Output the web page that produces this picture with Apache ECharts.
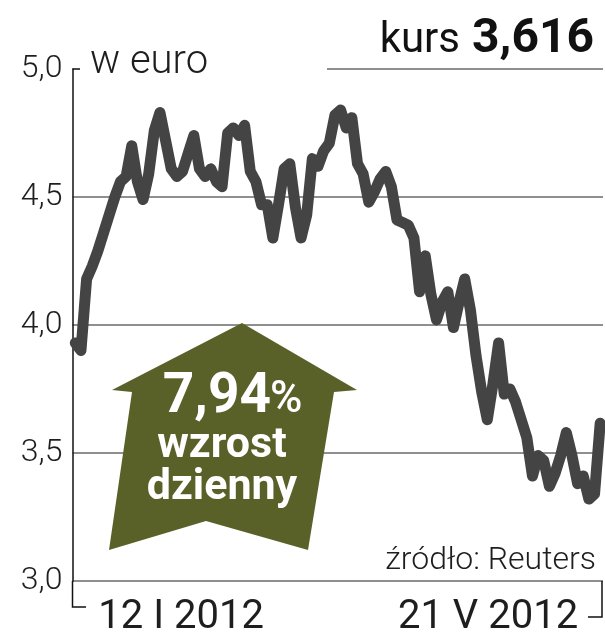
<!DOCTYPE html>
<html><head><meta charset="utf-8">
<script src="https://cdn.jsdelivr.net/npm/echarts@6/dist/echarts.min.js"></script>
<style>html,body{margin:0;padding:0;background:#fff}#c{width:605px;height:640px}</style>
</head><body><div id="c"></div>
<script>
// kurs EUR, 12 I 2012 - 21 V 2012 (odczyt z wykresu)
const values = [
  3.93, 3.90, 4.18, 4.23, 4.29, 4.36, 4.43, 4.50, 4.56, 4.58,
  4.70, 4.56, 4.49, 4.59, 4.76, 4.83, 4.72, 4.61, 4.58, 4.60,
  4.67, 4.74, 4.61, 4.58, 4.61, 4.56, 4.54, 4.75, 4.77, 4.74,
  4.78, 4.60, 4.56, 4.47, 4.47, 4.34, 4.47, 4.61, 4.63, 4.46,
  4.34, 4.43, 4.65, 4.62, 4.68, 4.71, 4.82, 4.84, 4.77, 4.81,
  4.63, 4.59, 4.48, 4.52, 4.57, 4.60, 4.54, 4.41, 4.40, 4.39,
  4.34, 4.13, 4.27, 4.12, 4.02, 4.09, 4.13, 3.99, 4.09, 4.18,
  4.06, 3.88, 3.74, 3.63, 3.77, 3.93, 3.73, 3.75, 3.70, 3.63,
  3.56, 3.41, 3.49, 3.47, 3.37, 3.42, 3.49, 3.58, 3.49, 3.38,
  3.41, 3.32, 3.34, 3.616
];
const categories = values.map((_, i) => i);
const xTickLabels = ['12 I 2012', '21 V 2012'];
const yTickLabels = ['3,0', '3,5', '4,0', '4,5', '5,0'];
const yMin = 3.0, yMax = 5.0, yStep = 0.5;
const unitLabel = 'w euro';
const rateTitle = 'kurs';
const rateValue = '3,616';
const changeValue = '7,94';
const changeLines = ['wzrost', 'dzienny'];
const sourceLabel = 'źródło: Reuters';

const chart = echarts.init(document.getElementById('c'), null, {renderer: 'canvas'});
const lastIdx = values.length - 1;
const ink = '#1e1e1e';
const gridGray = '#8f8f8f';
const olive = '#5a6128';

chart.setOption({
  animation: false,
  backgroundColor: '#fff',
  grid: {left: 72.5, right: 2, top: 69, bottom: 59, outerBoundsMode: 'none'},
  xAxis: {
    type: 'category',
    data: categories,
    boundaryGap: true,
    axisLine: {show: false},
    axisTick: {show: false},
    splitLine: {show: false},
    axisLabel: {
      interval: (i) => i === 0 || i === lastIdx,
      showMinLabel: true, showMaxLabel: true,
      alignMinLabel: 'left', alignMaxLabel: 'right',
      margin: 17,
      verticalAlign: 'top',
      formatter: (v, i) => i === 0 ? '{a|' + xTickLabels[0] + '}' : (i === lastIdx ? '{b|' + xTickLabels[1] + '}' : ''),
      rich: {
        a: {fontFamily: 'Roboto', fontSize: 40, color: ink, padding: [0, 0, 0, 23]},
        b: {fontFamily: 'Roboto', fontSize: 40, color: ink, padding: [0, 22, 0, 0]}
      }
    }
  },
  yAxis: {
    type: 'value',
    min: yMin, max: yMax, interval: yStep,
    axisLine: {show: true, lineStyle: {color: '#111', width: 1.5}},
    axisTick: {show: false},
    splitLine: {show: true, lineStyle: {color: [gridGray, gridGray, gridGray, gridGray, 'rgba(0,0,0,0)'], width: 2}},
    axisLabel: {
      margin: 10,
      fontFamily: 'Roboto', fontWeight: 300, fontSize: 32, color: ink,
      formatter: (v, i) => yTickLabels[i]
    }
  },
  series: [{
    type: 'line',
    data: values,
    symbol: 'none',
    clip: false,
    z: 5,
    lineStyle: {color: '#444444', width: 11, cap: 'round', join: 'round'}
  }],
  graphic: [
    {type: 'line', z: 1, shape: {x1: 327, y1: 69, x2: 603, y2: 69}, style: {stroke: gridGray, lineWidth: 2}},
    {type: 'line', z: 1, shape: {x1: 72.5, y1: 69, x2: 80, y2: 69}, style: {stroke: '#111', lineWidth: 1.5}},
    {type: 'polyline', z: 1, shape: {points: [[72.5, 581], [72.5, 607], [86, 607]]}, style: {stroke: '#111', lineWidth: 1.5, fill: null}},
    {type: 'polyline', z: 1, shape: {points: [[602, 581], [602, 617], [588, 617]]}, style: {stroke: '#111', lineWidth: 1.5, fill: null}},
    {type: 'polygon', z: 2, shape: {points: [[242, 323], [357, 390], [334, 392], [308, 550], [206, 521], [109, 550], [132, 392], [112, 390]]}, style: {fill: olive}},
    {type: 'text', z: 3, x: 271, y: 398, style: {text: changeValue, fill: '#fff', font: 'bold 55px Roboto', textAlign: 'right', textVerticalAlign: 'middle'}},
    {type: 'text', z: 3, x: 270, y: 401, style: {text: '%', fill: '#fff', font: '500 44px Roboto', textAlign: 'left', textVerticalAlign: 'middle'}},
    {type: 'text', z: 3, x: 222, y: 446, style: {text: changeLines[0], fill: '#fff', font: 'bold 43px Roboto', textAlign: 'center', textVerticalAlign: 'middle'}},
    {type: 'text', z: 3, x: 222, y: 488, style: {text: changeLines[1], fill: '#fff', font: 'bold 43px Roboto', textAlign: 'center', textVerticalAlign: 'middle'}},
    {type: 'text', z: 3, x: 90, y: 63, style: {text: unitLabel, fill: ink, font: '300 40px Roboto', textAlign: 'left', textVerticalAlign: 'middle'}},
    {type: 'text', z: 3, x: 460, y: 41, style: {text: rateTitle, fill: '#111', font: '42px Roboto', textAlign: 'right', textVerticalAlign: 'middle'}},
    {type: 'text', z: 3, x: 594, y: 40, style: {text: rateValue, fill: '#111', font: 'bold 48px Roboto', textAlign: 'right', textVerticalAlign: 'middle'}},
    {type: 'text', z: 3, x: 596, y: 561, style: {text: sourceLabel, fill: ink, font: '300 32px Roboto', textAlign: 'right', textVerticalAlign: 'middle'}}
  ]
});
</script>
</body></html>
